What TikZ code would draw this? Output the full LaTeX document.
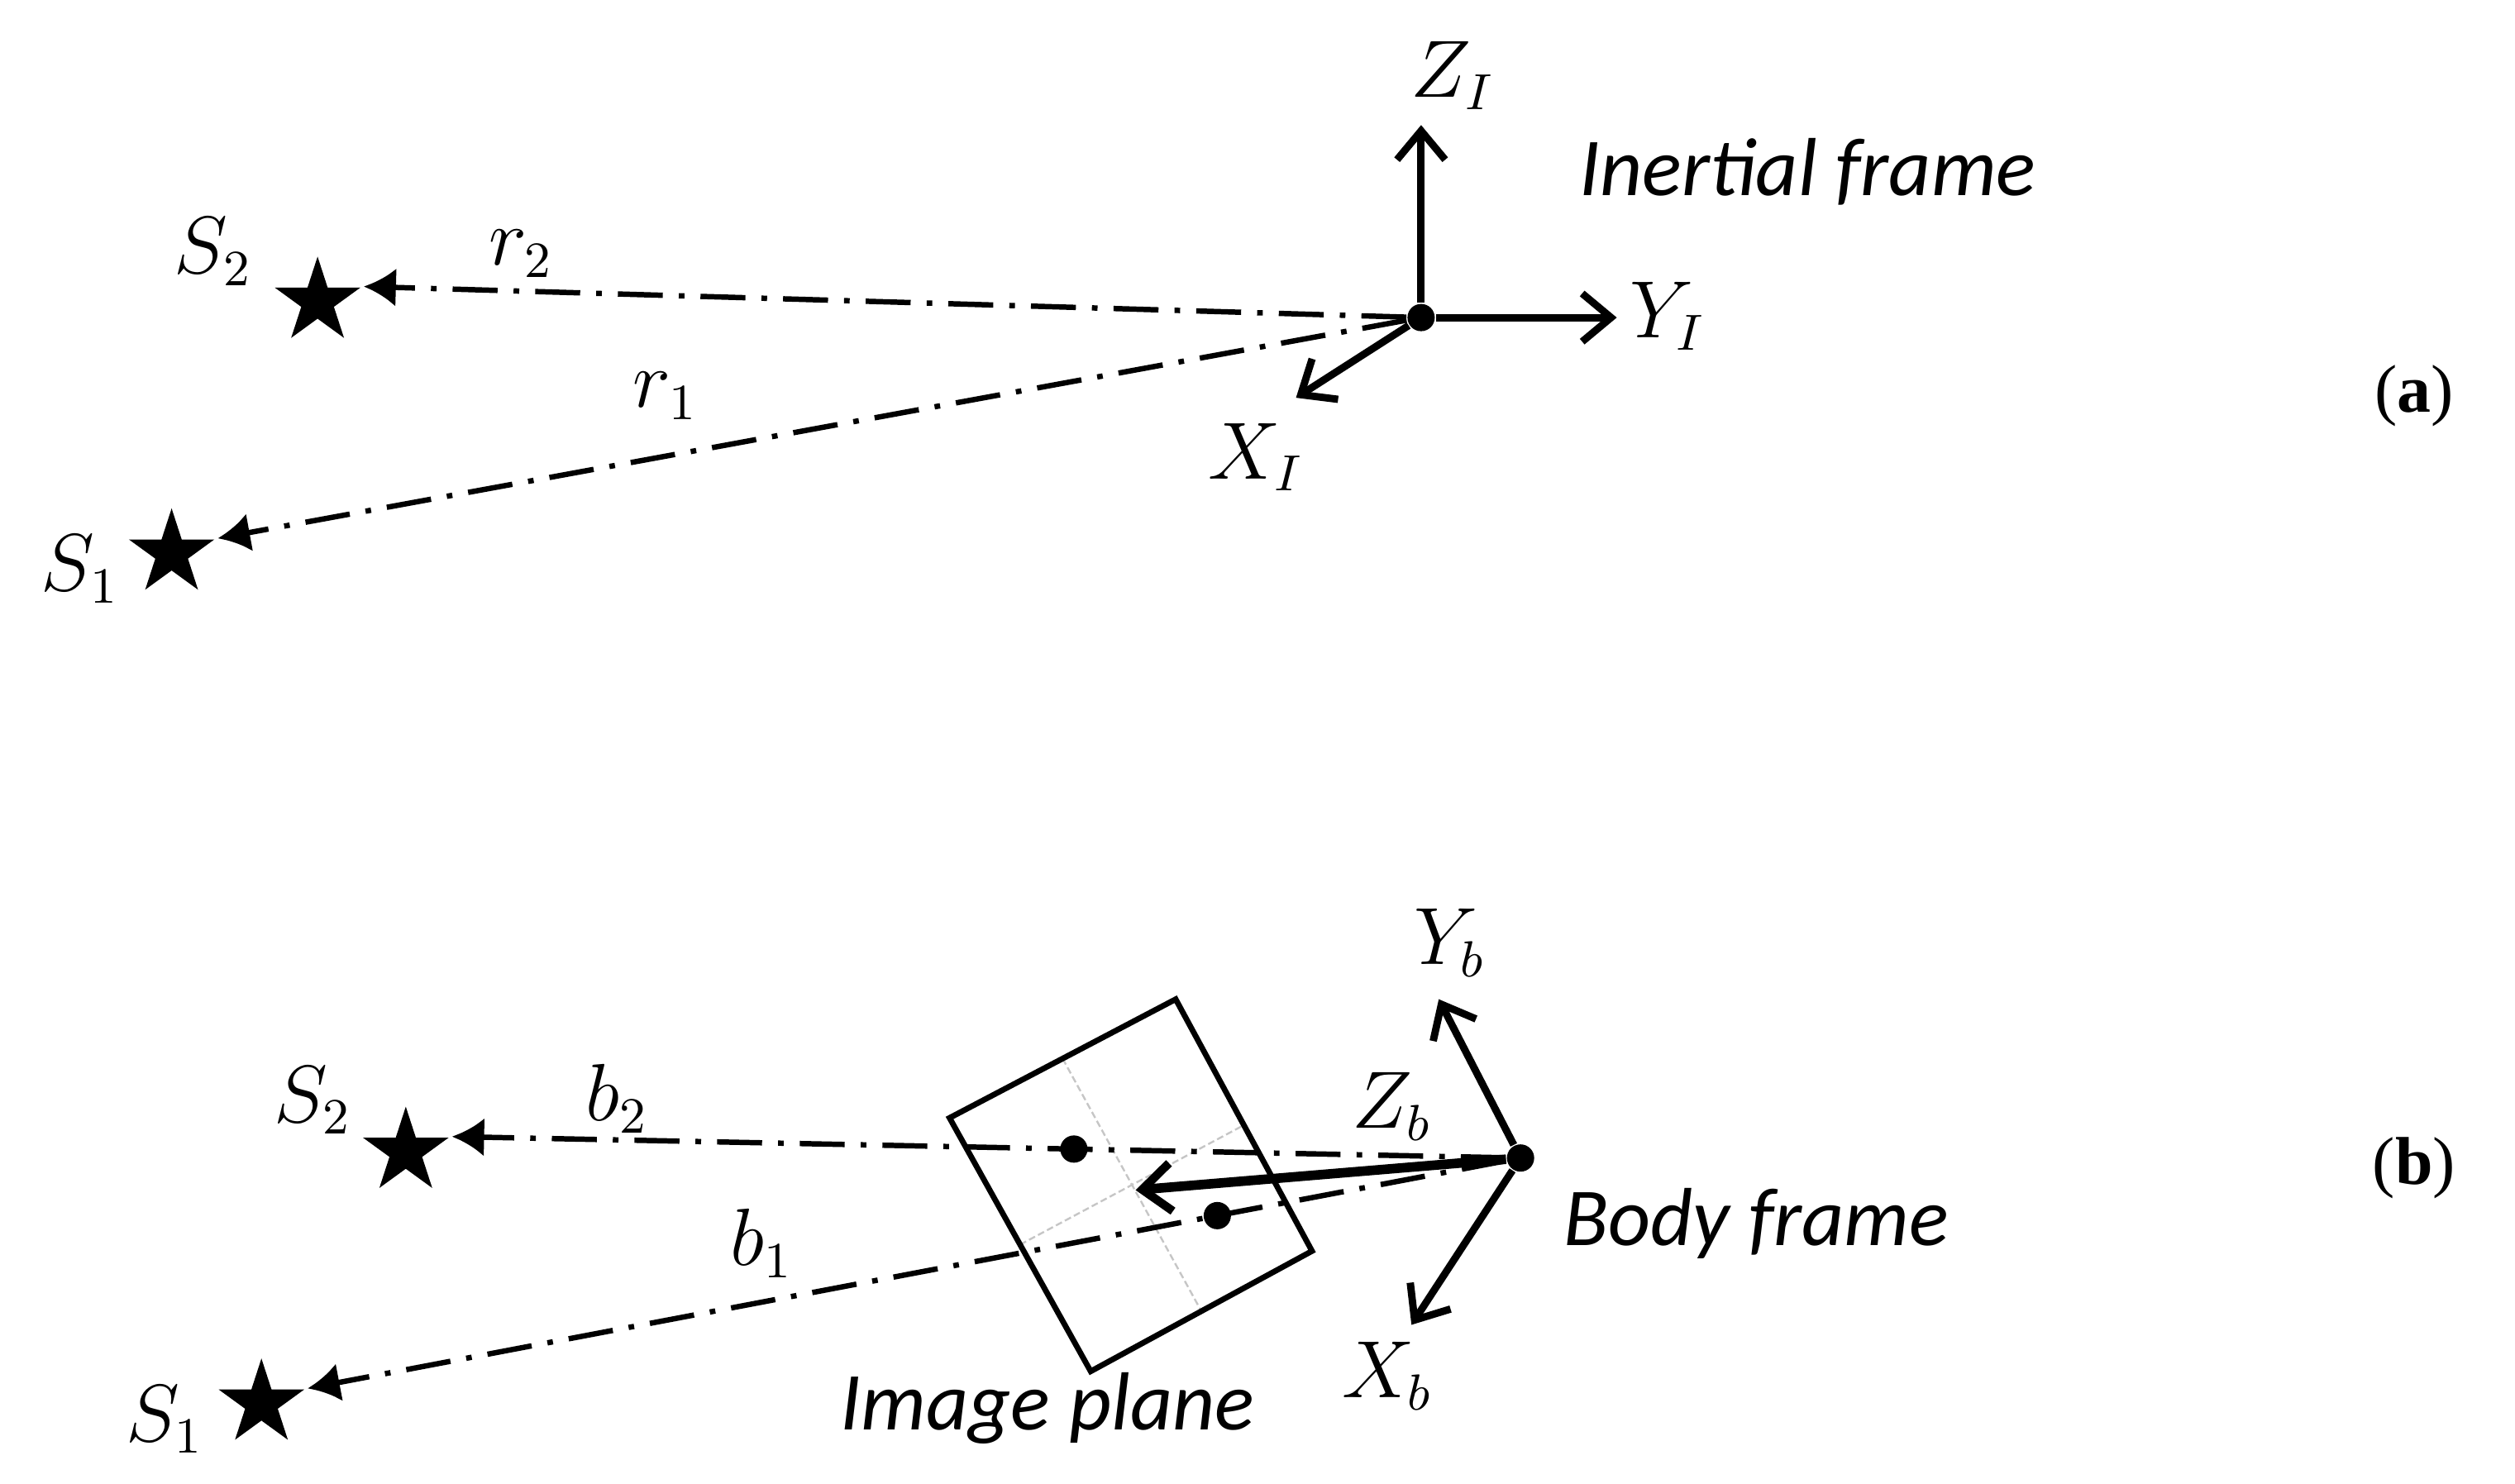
\documentclass[tikz,border=0pt]{standalone}
\usepackage{fontspec}
\setmainfont{Liberation Serif}
\newfontfamily\calib{Carlito}
\usetikzlibrary{arrows.meta,shapes.geometric,calc}
\begin{document}
\begin{tikzpicture}[x=0.01cm,y=-0.01cm,
  dot/.style={circle,fill,inner sep=0pt,minimum size=0.17cm},
  pdot/.style={circle,fill,inner sep=0pt,minimum size=0.17cm},
  starnode/.style={star,star points=5,star point ratio=2.618,fill,inner sep=0pt,minimum size=0.56cm},
  axis/.style={line width=1.3pt,-{Straight Barb[length=0.18cm,width=0.3cm,line width=1.3pt]}},
  thickaxis/.style={line width=1.7pt,-{Straight Barb[length=0.18cm,width=0.3cm,line width=1.5pt]}},
  ray/.style={line width=0.95pt,dash pattern=on 0.28cm off 0.1cm on 0.035cm off 0.1cm,-{Latex[length=0.2cm,width=0.24cm]}},
  plane/.style={line width=1pt},
  grid/.style={gray!45,line width=0.35pt,dash pattern=on 1.2pt off 0.6pt},
  lab/.style={font=\fontsize{13.5}{16}\selectfont,inner sep=0pt},
  txt/.style={font=\calib\itshape\fontsize{14.6}{17}\selectfont,inner sep=0pt},
  tag/.style={font=\fontsize{12}{14}\selectfont,inner sep=0pt}]
\useasboundingbox (0,0) rectangle (1568,925);

% ---------- (a) inertial frame ----------
\node[dot] (OI) at (886,198) {};
\coordinate (ZIt) at (886,78);
\coordinate (YIt) at (1008,198);
\coordinate (XIt) at (808,248);
\node[starnode] (S2a) at (198,188) {};
\node[starnode] (S1a) at (107,345) {};

\draw[ray] (OI) -- (S2a.outer point 5);
\draw[ray] (OI) -- (S1a.outer point 5);
\draw[axis] (OI) -- (ZIt);
\draw[axis] (OI) -- (YIt);
\draw[axis] (OI) -- (XIt);

\node[lab] (ZIl) at (906,47) {$Z_I$};
\node[lab] (YIl) at (1040,197) {$Y_I$};
\node[lab] (XIl) at (783,285) {$X_I$};
\node[txt] (inertial) at (1127,107) {Inertial frame};
\node[lab] (S2al) at (133,157) {$S_2$};
\node[lab] (S1al) at (50,355) {$S_1$};
\node[lab] (r2) at (325,158) {$r_2$};
\node[lab] (r1) at (415,247) {$r_1$};
\node[tag] (taga) at (1505,247) {(\textbf{a})};

% ---------- (b) body frame ----------
\node[dot] (Ob) at (948,722) {};
\coordinate (Ybt) at (897,623);
\coordinate (Xbt) at (880,826);
\node[starnode] (S2b) at (253,718) {};
\node[starnode] (S1b) at (163,875) {};

% image plane
\coordinate (PA) at (592,697);
\coordinate (PB) at (733,623);
\coordinate (PC) at (818,780);
\coordinate (PD) at (680,855);
\coordinate (PM) at (708,742);
\draw[grid] ($(PA)!0.5!(PB)$) -- ($(PD)!0.5!(PC)$);
\draw[grid] ($(PA)!0.5!(PD)$) -- ($(PB)!0.5!(PC)$);
\draw[plane] (PA) -- (PB) -- (PC) -- (PD) -- cycle;

\draw[ray] (Ob) -- (S2b.outer point 5);
\draw[ray] (Ob) -- (S1b.outer point 5);
\node[pdot] (p2) at ($(Ob)!0.418!(S2b.outer point 5)$) {};
\node[pdot] (p1) at ($(Ob)!0.25!(S1b.outer point 5)$) {};

\draw[thickaxis] (Ob) -- (PM);
\draw[axis] (Ob) -- (Ybt);
\draw[axis] (Ob) -- (Xbt);

\node[lab] (Ybl) at (904,588) {$Y_b$};
\node[lab] (Zbl) at (868,690) {$Z_b$};
\node[lab] (Xbl) at (865,858) {$X_b$};
\node[txt] (body) at (1095,763) {Body frame};
\node[txt] (imgplane) at (653,878) {Image plane};
\node[lab] (S2bl) at (195,686) {$S_2$};
\node[lab] (S1bl) at (103,885) {$S_1$};
\node[lab] (b2) at (385,685) {$b_2$};
\node[lab] (b1) at (475,775) {$b_1$};
\node[tag] (tagb) at (1505,728) {(\textbf{b})};
\end{tikzpicture}
\end{document}
